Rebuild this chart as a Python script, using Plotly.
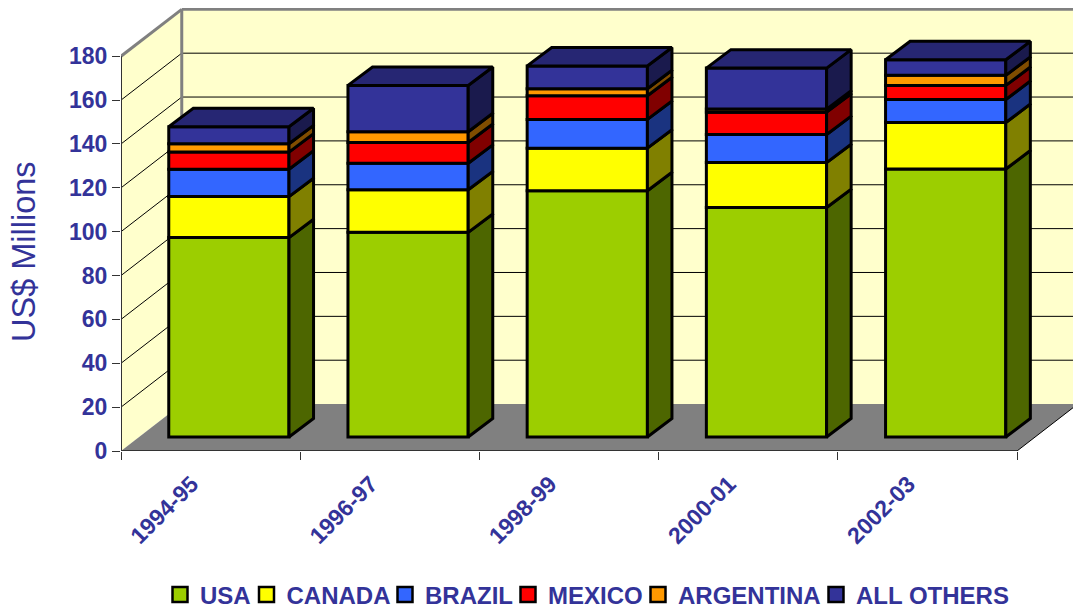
import plotly.graph_objects as go

categories = ["1994-95", "1996-97", "1998-99", "2000-01", "2002-03"]
usa = [90.9, 93.3, 112.3, 104.6, 122.2]
canada = [18.7, 19.4, 19.4, 20.5, 21.2]
brazil = [12.5, 12.1, 13.1, 12.8, 10.5]
mexico = [7.8, 9.5, 10.8, 10.2, 6.4]
argentina = [3.8, 4.9, 3.2, 1.4, 4.6]
others = [7.8, 21.1, 10.4, 18.7, 7.1]
y_ticks = [0, 20, 40, 60, 80, 100, 120, 140, 160, 180]

names = ["USA", "CANADA", "BRAZIL", "MEXICO", "ARGENTINA", "ALL OTHERS"]
values = [usa, canada, brazil, mexico, argentina, others]
front_colors = ["#9CCE00", "#FFFF00", "#3366FF", "#FF0000", "#FF9900", "#333399"]
side_colors = ["#4D6600", "#808000", "#1A3380", "#800000", "#804D00", "#1A1A4D"]
top_color = "#262673"
text_color = "#333399"
FONT = "Liberation Sans, Arial, sans-serif"

# pseudo-3D projection, in axis units
WALL_DX, WALL_DY = 0.339, 21.4
BAR_DX, BAR_DY = 0.137, 8.4
BAR_W = 0.671
BAR_SHIFT = 0.602
BAR_BASE = 6.4
LABEL_SHIFT = 0.394
N = len(categories)
X_MAX, Y_MAX = 5.3125, 202

fig = go.Figure()
legend_x = [160, 246.5, 385, 508, 638, 816]
cum = [BAR_BASE] * N
for k, (name, vals) in enumerate(zip(names, values)):
    lg = "legend" if k == 0 else f"legend{k + 1}"
    xc = [i + BAR_SHIFT for i in range(N)]
    fig.add_bar(x=xc, y=vals, base=cum[:], width=BAR_W, name=name, showlegend=False,
                marker=dict(color=front_colors[k], line=dict(color="black", width=3)),
                hovertemplate=name + ": %{y}<extra></extra>")
    fig.add_scatter(x=[None], y=[None], mode="markers", name=name, legend=lg,
                    marker=dict(symbol="square", size=15, color=front_colors[k],
                                line=dict(color="black", width=2.5)))
    sx, sy = [], []
    for i in range(N):
        r = xc[i] + BAR_W / 2
        b, t = cum[i], cum[i] + vals[i]
        sx += [r, r + BAR_DX, r + BAR_DX, r, r, None]
        sy += [b, b + BAR_DY, t + BAR_DY, t, b, None]
    fig.add_scatter(x=sx, y=sy, fill="toself", mode="lines", fillcolor=side_colors[k],
                    line=dict(color="black", width=3), showlegend=False, hoverinfo="skip")
    cum = [c + v for c, v in zip(cum, vals)]
tx, ty = [], []
for i in range(N):
    l = i + BAR_SHIFT - BAR_W / 2
    r = i + BAR_SHIFT + BAR_W / 2
    t = cum[i]
    tx += [l, l + BAR_DX, r + BAR_DX, r, l, None]
    ty += [t, t + BAR_DY, t + BAR_DY, t, t, None]
fig.add_scatter(x=tx, y=ty, fill="toself", mode="lines", fillcolor=top_color,
                line=dict(color="black", width=3), showlegend=False, hoverinfo="skip")


def poly(pts):
    return "M" + " L".join(f"{a},{b}" for a, b in pts) + " Z"


shapes = [
    dict(type="path", path=poly([(0, 0), (WALL_DX, WALL_DY), (WALL_DX, 180 + WALL_DY), (0, 180)]),
         fillcolor="#FFFFCC", line_width=0, layer="below"),
    dict(type="path", path=poly([(WALL_DX, WALL_DY), (N + WALL_DX, WALL_DY), (N + WALL_DX, 180 + WALL_DY), (WALL_DX, 180 + WALL_DY)]),
         fillcolor="#FFFFCC", line_width=0, layer="below"),
    dict(type="path", path=poly([(0, 0), (WALL_DX, WALL_DY), (N + WALL_DX, WALL_DY), (N, 0)]),
         fillcolor="#808080", line_width=0, layer="below"),
]
for v in y_ticks[1:-1]:
    shapes.append(dict(type="line", x0=0, y0=v, x1=WALL_DX, y1=v + WALL_DY,
                       line=dict(color="black", width=1), layer="below"))
    shapes.append(dict(type="line", x0=WALL_DX, y0=v + WALL_DY, x1=N + WALL_DX, y1=v + WALL_DY,
                       line=dict(color="black", width=1), layer="below"))
gray = dict(color="#808080", width=3)
shapes += [
    dict(type="line", x0=WALL_DX, y0=WALL_DY, x1=WALL_DX, y1=180 + WALL_DY, line=gray, layer="below"),
    dict(type="line", x0=WALL_DX, y0=180 + WALL_DY, x1=N + WALL_DX, y1=180 + WALL_DY, line=gray, layer="below"),
    dict(type="line", x0=0, y0=180, x1=WALL_DX, y1=180 + WALL_DY, line=gray, layer="below"),
    dict(type="line", x0=N, y0=0, x1=N + WALL_DX, y1=WALL_DY, line=dict(color="black", width=1), layer="below"),
    dict(type="line", x0=0, y0=0, x1=0, y1=180, line=dict(color="#333333", width=2)),
    dict(type="line", x0=0, y0=0, x1=N, y1=0, line=dict(color="#333333", width=2)),
]

legends = {}
for k in range(len(names)):
    key = "legend" if k == 0 else f"legend{k + 1}"
    legends[key] = dict(xref="container", yref="container", x=legend_x[k] / 1073, y=1 - 595 / 614,
                        xanchor="left", yanchor="middle", bgcolor="rgba(0,0,0,0)",
                        font=dict(family=FONT, size=24, color=text_color, weight="bold"))

fig.update_layout(
    width=1073, height=614, barmode="overlay", showlegend=True,
    margin=dict(l=121, r=0, t=8, b=163, autoexpand=False),
    paper_bgcolor="white", plot_bgcolor="white", shapes=shapes,
    xaxis=dict(range=[0, X_MAX], tickmode="array", tickvals=[i + LABEL_SHIFT for i in range(N)], ticktext=categories,
               tickangle=-45, ticks="", showgrid=False, zeroline=False, showline=False, ticklabelstandoff=14,
               tickfont=dict(family=FONT, size=23, color=text_color, weight="bold"),
               minor=dict(tick0=0, dtick=1, ticks="outside", ticklen=8, tickcolor="#333333", tickwidth=1, showgrid=False)),
    yaxis=dict(range=[0, Y_MAX], tickmode="array", tickvals=y_ticks, ticks="outside", ticklen=8,
               tickcolor="#333333", tickwidth=1, showgrid=False, zeroline=False, showline=False,
               tickfont=dict(family=FONT, size=23, color=text_color, weight="bold")),
    annotations=[dict(text="US$ Millions", xref="paper", yref="paper", x=(24 - 121) / 952, y=(451 - 252) / 443,
                      xanchor="center", yanchor="middle", textangle=-90, showarrow=False,
                      font=dict(family=FONT, size=32.5, color=text_color))],
    **legends,
)
fig.write_html("out.html", config={"displayModeBar": False}, post_script="document.body.style.margin='0';")
